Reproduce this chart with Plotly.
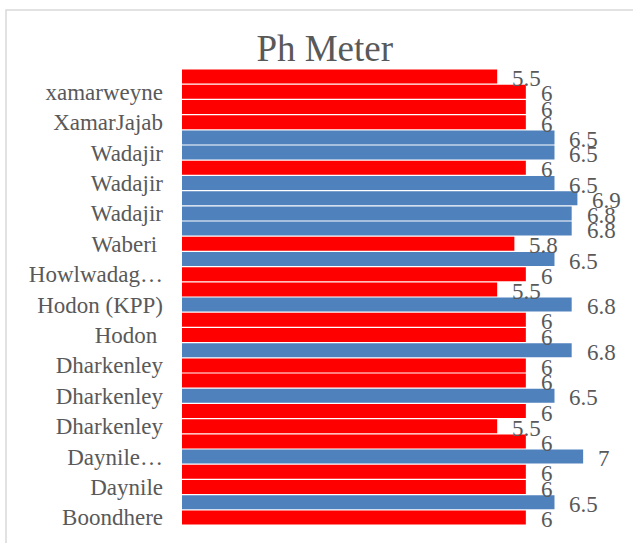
import plotly.graph_objects as go

# Values listed top-to-bottom as they appear in the chart
ph_values = [5.5, 6, 6, 6, 6.5, 6.5, 6, 6.5, 6.9, 6.8,
             6.8, 5.8, 6.5, 6, 5.5, 6.8, 6, 6, 6.8, 6,
             6, 6.5, 6, 5.5, 6, 7, 6, 6, 6.5, 6]
# Every other category label is shown (top-to-bottom, at odd positions)
shown_labels = ["xamarweyne", "XamarJajab", "Wadajir", "Wadajir", "Wadajir",
                "Waberi ", "Howlwadag…", "Hodon (KPP)", "Hodon ", "Dharkenley",
                "Dharkenley", "Dharkenley", "Daynile…", "Daynile", "Boondhere"]
value_labels = ["5.5", "6", "6", "6", "6.5", "6.5", "6", "6.5", "6.9", "6.8",
                "6.8", "5.8", "6.5", "6", "5.5", "6.8", "6", "6", "6.8", "6",
                "6", "6.5", "6", "5.5", "6", "7", "6", "6", "6.5", "6"]

RED = "#FF0000"
BLUE = "#4F81BD"
TXT = "#595959"
FONT = "Liberation Serif"

positions = list(range(len(ph_values)))
bar_colors = [BLUE if v >= 6.5 else RED for v in ph_values]
label_positions = [2 * i + 1 for i in range(len(shown_labels))]

fig = go.Figure()
fig.add_trace(go.Bar(
    x=ph_values, y=positions, orientation="h",
    marker=dict(color=bar_colors, line=dict(width=0)),
    hoverinfo="x",
))

annotations = []
for p, v, t in zip(positions, ph_values, value_labels):
    annotations.append(dict(
        x=v, y=p, xref="x", yref="y", text=t, showarrow=False,
        xanchor="left", yanchor="middle", xshift=13, yshift=-2,
        font=dict(family=FONT, size=23, color=TXT),
    ))

fig.update_layout(
    width=633, height=543,
    margin=dict(l=182, r=0, t=69, b=18),
    paper_bgcolor="white", plot_bgcolor="white",
    showlegend=False,
    bargap=0.08,
    title=dict(text="Ph Meter", x=0.513, xanchor="center", y=0.912, yanchor="middle",
               font=dict(family=FONT, size=37, color=TXT)),
    xaxis=dict(range=[0, 7.87], showgrid=False, zeroline=False, showticklabels=False,
               showline=False, ticks=""),
    yaxis=dict(range=[29.5, -0.5], tickmode="array", tickvals=label_positions,
               ticktext=shown_labels, showgrid=False, zeroline=False, ticks="",
               showline=False, ticklabelstandoff=18,
               tickfont=dict(family=FONT, size=23, color=TXT)),
    annotations=annotations,
    shapes=[dict(type="rect", xref="paper", yref="paper",
                 x0=(6 - 182) / 451, x1=1.1, y0=-0.1, y1=(525 - 10) / 456,
                 line=dict(color="#D9D9D9", width=1.5), fillcolor="rgba(0,0,0,0)",
                 layer="below")],
)

fig.write_html("out.html", config={"displayModeBar": False},
               post_script="document.body.style.margin='0';document.body.style.overflow='hidden';")
